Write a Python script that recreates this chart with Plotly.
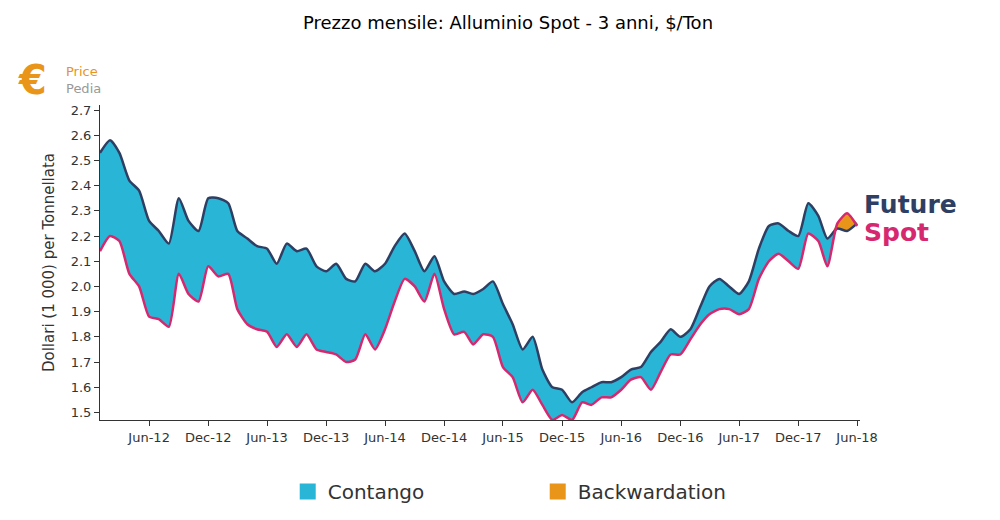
import plotly.graph_objects as go
import pandas as pd

dates = pd.date_range("2012-01-01", periods=78, freq="MS")
future = [2.53,2.58,2.53,2.42,2.38,2.26,2.22,2.17,2.35,2.26,2.22,2.35,2.35,2.33,2.22,2.19,2.16,2.15,2.09,2.17,
          2.14,2.15,2.08,2.06,2.09,2.03,2.02,2.09,2.06,2.09,2.16,2.21,2.14,2.06,2.12,2.02,1.97,1.98,1.97,1.99,
          2.02,1.93,1.85,1.75,1.80,1.67,1.60,1.59,1.54,1.58,1.60,1.62,1.62,1.64,1.67,1.68,1.74,1.78,1.83,1.80,
          1.83,1.92,2.00,2.03,2.00,1.97,2.02,2.15,2.24,2.25,2.22,2.20,2.33,2.28,2.19,2.23,2.22,2.25]
spot = [2.14,2.20,2.18,2.05,2.00,1.88,1.87,1.84,2.05,1.97,1.94,2.08,2.04,2.05,1.91,1.85,1.83,1.82,1.76,1.81,
        1.76,1.81,1.75,1.74,1.73,1.70,1.71,1.81,1.75,1.83,1.94,2.03,2.00,1.94,2.05,1.91,1.81,1.82,1.77,1.81,
        1.80,1.68,1.64,1.54,1.59,1.53,1.47,1.49,1.47,1.54,1.53,1.56,1.56,1.59,1.63,1.64,1.59,1.66,1.73,1.73,
        1.79,1.85,1.89,1.91,1.91,1.89,1.91,2.03,2.10,2.13,2.10,2.07,2.21,2.18,2.08,2.25,2.29,2.24]
upper = [max(a, b) for a, b in zip(future, spot)]
legend_names = ["Contango", "Backwardation"]

C_CON, C_BACK, C_FUT, C_SPOT = "#29b6d6", "#e8951a", "#2e3f63", "#d6286f"
sm = 0.6
fig = go.Figure()
fig.add_trace(go.Scatter(x=dates, y=spot, mode="lines", line=dict(width=0, shape="spline", smoothing=sm), showlegend=False, hoverinfo="skip"))
fig.add_trace(go.Scatter(x=dates, y=upper, mode="lines", fill="tonexty", fillcolor=C_CON, line=dict(width=0, shape="spline", smoothing=sm), showlegend=False, hoverinfo="skip"))
fig.add_trace(go.Scatter(x=dates, y=future, mode="lines", line=dict(width=0, shape="spline", smoothing=sm), showlegend=False, hoverinfo="skip"))
fig.add_trace(go.Scatter(x=dates, y=upper, mode="lines", fill="tonexty", fillcolor=C_BACK, line=dict(width=0, shape="spline", smoothing=sm), showlegend=False, hoverinfo="skip"))
fig.add_trace(go.Scatter(x=dates, y=future, mode="lines", line=dict(color=C_FUT, width=2.5, shape="spline", smoothing=sm), showlegend=False))
fig.add_trace(go.Scatter(x=dates, y=spot, mode="lines", line=dict(color=C_SPOT, width=2.5, shape="spline", smoothing=sm), showlegend=False))
for name, c in zip(legend_names, [C_CON, C_BACK]):
    fig.add_trace(go.Scatter(x=[None], y=[None], mode="markers", name=name,
                             marker=dict(symbol="square", size=26, color=c)))

ticks = pd.date_range("2012-06-01", "2018-06-01", freq="6MS")
fig.update_layout(
    width=1000, height=520, plot_bgcolor="white", paper_bgcolor="white",
    font=dict(family="DejaVu Sans", color="#333", size=13),
    margin=dict(l=92, r=148, t=97, b=108, autoexpand=False),
    title=dict(text="Prezzo mensile: Alluminio Spot - 3 anni, $/Ton", x=0.5, xanchor="center", y=0.984, font=dict(size=18, color="#000")),
    xaxis=dict(range=[dates[0], pd.Timestamp("2018-06-10")], tickvals=ticks, ticktext=[d.strftime("%b-%y") for d in ticks],
               showgrid=False, showline=True, linecolor="#333", ticks="outside", ticklen=5, tickcolor="#333", automargin=False),
    yaxis=dict(range=[1.47, 2.72], dtick=0.1, tickformat=".1f", showgrid=False, showline=True, linecolor="#333",
               ticks="outside", ticklen=5, tickcolor="#333", automargin=False,
               title=dict(text="Dollari (1 000) per Tonnellata", font=dict(size=15), standoff=12)),
    legend=dict(orientation="h", traceorder="normal", x=0.247, xanchor="left", y=-0.165, yanchor="top",
                font=dict(size=20), entrywidthmode="pixels", entrywidth=205),
    annotations=[
        dict(text="<b>Future</b>", x=1.0, xref="paper", xanchor="left", xshift=2, y=2.325, yref="y", showarrow=False, font=dict(size=25, color=C_FUT)),
        dict(text="<b>Spot</b>", x=1.0, xref="paper", xanchor="left", xshift=2, y=2.215, yref="y", showarrow=False, font=dict(size=25, color=C_SPOT)),
    ],
)
fig.add_annotation(text="<span style='color:#e8951a'>Price</span><br><span style='color:#999'>Pedia</span>",
                   xref="paper", yref="paper", x=-0.047, y=1.135, xanchor="left", yanchor="top", showarrow=False,
                   align="left", font=dict(size=13))
fig.add_annotation(text="<b>€</b>", xref="paper", yref="paper", x=-0.11, y=1.16, xanchor="left", yanchor="top",
                   showarrow=False, font=dict(size=40, color="#e8951a"))
fig.write_html("out.html")
